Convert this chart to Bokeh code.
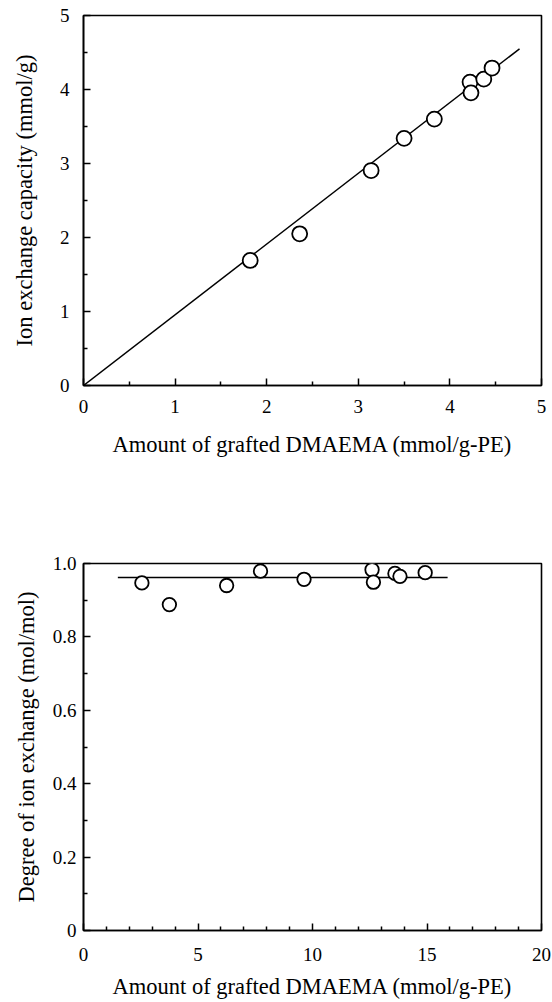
from bokeh.plotting import figure
from bokeh.layouts import column
from bokeh.models import FixedTicker
from bokeh.embed import file_html
from bokeh.resources import INLINE

# ---- data: top panel (ion exchange capacity) ----
cap_x = [1.82, 2.36, 3.14, 3.50, 3.83, 4.22, 4.23, 4.37, 4.46]
cap_y = [1.69, 2.05, 2.905, 3.34, 3.60, 4.10, 3.955, 4.14, 4.29]
cap_fit_x = [0.0, 4.76]
cap_fit_y = [0.0, 4.55]
cap_xticks = [0, 1, 2, 3, 4, 5]
cap_yticks = [0, 1, 2, 3, 4, 5]

# ---- data: bottom panel (degree of ion exchange) ----
deg_x = [2.55, 3.75, 6.25, 7.73, 9.63, 12.6, 12.66, 13.6, 13.82, 14.92]
deg_y = [0.947, 0.888, 0.940, 0.979, 0.957, 0.983, 0.949, 0.973, 0.965, 0.975]
deg_fit_x = [1.5, 15.9]
deg_fit_y = [0.962, 0.962]
deg_xticks = [0, 5, 10, 15, 20]
deg_yticks = [0, 0.2, 0.4, 0.6, 0.8, 1.0]
deg_ylabels = ["0", "0.2", "0.4", "0.6", "0.8", "1.0"]

FONT = "'Liberation Serif', 'Times New Roman', serif"
XLABEL = "Amount of grafted DMAEMA (mmol/g-PE)"


def style(p, xticks, yticks, x_minor, y_minor, xstand, ystand, xlab_stand, ylab_stand):
    p.grid.visible = False
    p.outline_line_color = "black"
    p.outline_line_width = 1.6
    p.xaxis.ticker = FixedTicker(ticks=xticks, minor_ticks=x_minor)
    p.yaxis.ticker = FixedTicker(ticks=yticks, minor_ticks=y_minor)
    for ax in (p.xaxis[0], p.yaxis[0]):
        ax.axis_line_width = 1.6
        ax.axis_line_color = "black"
        ax.major_tick_in = 7
        ax.major_tick_out = 0
        ax.minor_tick_in = 4
        ax.minor_tick_out = 0
        ax.major_tick_line_width = 1.5
        ax.minor_tick_line_width = 1.5
        ax.major_tick_line_color = "black"
        ax.minor_tick_line_color = "black"
        ax.major_label_text_font = FONT
        ax.major_label_text_font_size = "19px"
        ax.major_label_text_color = "black"
        ax.axis_label_text_font = FONT
        ax.axis_label_text_font_size = "22.5px"
        ax.axis_label_text_font_style = "normal"
        ax.axis_label_text_color = "black"
    p.xaxis.major_label_standoff = xstand
    p.yaxis.major_label_standoff = ystand
    p.xaxis.axis_label_standoff = xlab_stand
    p.yaxis.axis_label_standoff = ylab_stand


# ---- top figure ----
p1 = figure(width=552, height=480, x_range=(0, 5), y_range=(0, 5),
            output_backend="svg", toolbar_location=None,
            min_border_left=83, min_border_right=11,
            min_border_top=15, min_border_bottom=95)
p1.xaxis.axis_label = XLABEL
p1.yaxis.axis_label = "Ion exchange capacity (mmol/g)"
style(p1, cap_xticks, cap_yticks,
      [0.5, 1.5, 2.5, 3.5, 4.5], [0.5, 1.5, 2.5, 3.5, 4.5],
      14, 14, 16, 20)
p1.line(cap_fit_x, cap_fit_y, line_color="black", line_width=1.5)
p1.scatter(cap_x, cap_y, size=15, fill_color="white", line_color="black", line_width=1.8)

# ---- bottom figure ----
p2 = figure(width=552, height=522, x_range=(0, 20), y_range=(0, 1.0),
            output_backend="svg", toolbar_location=None,
            min_border_left=83, min_border_right=10,
            min_border_top=83, min_border_bottom=72)
p2.xaxis.axis_label = XLABEL
p2.yaxis.axis_label = "Degree of ion exchange (mol/mol)"
style(p2, deg_xticks, deg_yticks,
      [1, 2, 3, 4, 6, 7, 8, 9, 11, 12, 13, 14, 16, 17, 18, 19],
      [0.1, 0.3, 0.5, 0.7, 0.9],
      17, 7, 10, 11)
p2.yaxis.major_label_overrides = {t: l for t, l in zip(deg_yticks, deg_ylabels)}
p2.line(deg_fit_x, deg_fit_y, line_color="black", line_width=1.5)
p2.scatter(deg_x, deg_y, size=13.5, fill_color="white", line_color="black", line_width=1.8)

layout = column(p1, p2, spacing=0)
open("out.html", "w").write(file_html(layout, INLINE))
